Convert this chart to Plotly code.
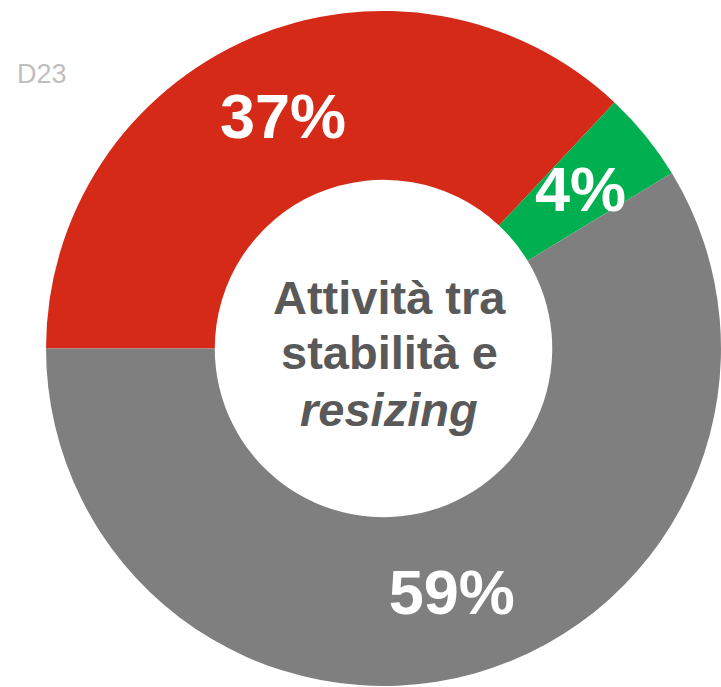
import math
import plotly.graph_objects as go

labels = ["Rosso", "Verde", "Grigio"]
values = [37.0, 4.3, 58.7]
text_labels = ["37%", "4%", "59%"]
colors = ["#D52A17", "#00B050", "#7F7F7F"]
center_lines = ["<b>Attività tra</b>", "<b>stabilità e</b>", "<b><i>resizing</i></b>"]

W, H = 721, 687
FONT = "Liberation Sans, Arial, sans-serif"
DOM_X = [0.0638, 1.0]
DOM_Y = [0.0015, 0.984]
HOLE = 0.5

# pie geometry (pixels)
R = min((DOM_X[1] - DOM_X[0]) * W, (DOM_Y[1] - DOM_Y[0]) * H) / 2
cx = (DOM_X[0] + DOM_X[1]) / 2
cy = (DOM_Y[0] + DOM_Y[1]) / 2
r_mid = R * (1 + HOLE) / 2

# slice label anchor points, derived from the values (clockwise from 9 o'clock)
total = sum(values)
start_deg = -90
cum = 0
label_pos = []
for v in values:
    mid = start_deg + (cum + v / 2) / total * 360
    label_pos.append((cx + r_mid * math.sin(math.radians(mid)) / W,
                      cy + r_mid * math.cos(math.radians(mid)) / H))
    cum += v

# the small green label is drawn as an annotation so it keeps full size
pie_text = [t if i != 1 else "" for i, t in enumerate(text_labels)]

fig = go.Figure(go.Pie(
    labels=labels,
    values=values,
    text=pie_text,
    textinfo="text",
    textposition="inside",
    insidetextorientation="horizontal",
    sort=False,
    direction="clockwise",
    rotation=-90,
    hole=HOLE,
    marker=dict(colors=colors, line=dict(width=0)),
    textfont=dict(family=FONT, size=63, color="white", weight="bold"),
    domain=dict(x=DOM_X, y=DOM_Y),
    showlegend=False,
    hoverinfo="skip",
))

annotations = [
    dict(text="<b>%s</b>" % text_labels[1], x=label_pos[1][0], y=label_pos[1][1],
         xref="paper", yref="paper", xanchor="center", yanchor="middle",
         showarrow=False, font=dict(family=FONT, size=63, color="white")),
    dict(text="D23", x=15 / W, y=1 - 74 / H, xref="paper", yref="paper",
         xanchor="left", yanchor="middle", showarrow=False,
         font=dict(family=FONT, size=27, color="#BFBFBF")),
]
line_y_px = [297, 352, 409]
for txt, ypx in zip(center_lines, line_y_px):
    annotations.append(dict(text=txt, x=389 / W, y=1 - ypx / H, xref="paper", yref="paper",
                            xanchor="center", yanchor="middle", showarrow=False,
                            font=dict(family=FONT, size=47, color="#595959")))

fig.update_layout(
    width=W, height=H,
    margin=dict(l=0, r=0, t=0, b=0),
    paper_bgcolor="white",
    plot_bgcolor="white",
    uniformtext=dict(minsize=63, mode="show"),
    annotations=annotations,
)

fig.write_html("out.html", config={"displayModeBar": False},
               post_script="document.body.style.margin='0';")
